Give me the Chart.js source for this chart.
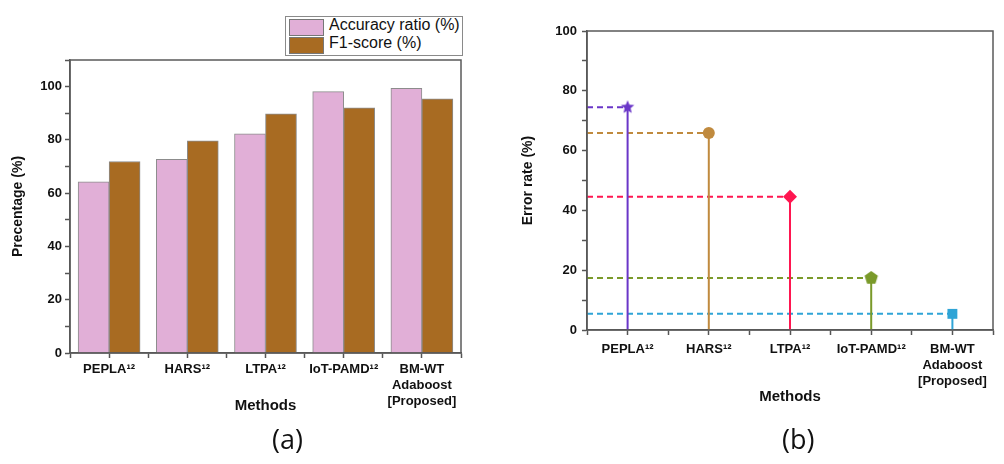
<!DOCTYPE html>
<html>
<head>
<meta charset="utf-8">
<script src="https://cdn.jsdelivr.net/npm/chart.js@4.4.1/dist/chart.umd.min.js"></script>
<style>
  body { margin: 0; background: #fff; font-family: "Liberation Sans", Arial, sans-serif; }
  #page { position: relative; width: 1004px; height: 464px; overflow: hidden; }
  .box { position: absolute; top: 0; height: 464px; }
  #legendA { position: absolute; left: 285px; top: 16px; width: 178px; height: 40px; border: 1px solid #8a8a8a; box-sizing: border-box; background: #fff; }
  .item { position: absolute; left: 3px; height: 16px; }
  .sw { position: absolute; left: 0; top: 0; width: 33px; height: 15px; border: 1px solid #777; }
  .lt { position: absolute; left: 40px; top: -3px; font-size: 16px; white-space: nowrap; color: #111; }
  .cap { position: absolute; top: 420px; font-family: "Open Sans", sans-serif; font-size: 27px; color: #111; }
</style>
</head>
<body>
<div id="page">
  <div class="box" style="left:0; width:480px;"><canvas id="chartA"></canvas></div>
  <div class="box" style="left:500px; width:504px;"><canvas id="chartB"></canvas></div>
  <div id="legendA"></div>
  <div class="cap" style="left:272px;">(a)</div>
  <div class="cap" style="left:782px;">(b)</div>
</div>
<script>
// datos
const metodos = ['PEPLA¹²', 'HARS¹²', 'LTPA¹²', 'IoT-PAMD¹²', ['BM-WT', 'Adaboost', '[Proposed]']];
const accuracyRatio = [64.3, 72.7, 82.3, 98.1, 99.4];
const f1Score = [71.9, 79.7, 89.8, 92.0, 95.4];
const errorRate = [74.5, 65.9, 44.6, 17.4, 5.4];
const seriesNames = ['Accuracy ratio (%)', 'F1-score (%)'];
const seriesColors = ['#e1afd7', '#a86b22'];
const errorColors = ['#6a36c8', '#c08a3e', '#ff1650', '#7a9a2a', '#2fa4d6'];

const tickFont = { family: 'Liberation Sans', size: 13, weight: 'bold' };
const titleFont = { family: 'Liberation Sans', size: 15, weight: 'bold' };

// marco alrededor del area del grafico
const framePlugin = {
    id: 'frame',
    afterDraw(chart) {
        const a = chart.chartArea;
        const ctx = chart.ctx;
        ctx.save();
        ctx.strokeStyle = '#5a5a5a';
        ctx.lineWidth = 1.5;
        ctx.strokeRect(a.left, a.top, a.right - a.left, a.bottom - a.top);
        ctx.restore();
    }
};

function xLabel(v) {
    return Number.isInteger(v) ? metodos[v - 1] : '';
}

// leyenda (a)
const legendA = document.getElementById('legendA');
seriesNames.forEach((name, i) => {
    const it = document.createElement('div');
    it.className = 'item';
    it.style.top = (2 + i * 18) + 'px';
    it.innerHTML = '<div class="sw" style="background:' + seriesColors[i] + '"></div><div class="lt">' + name + '</div>';
    legendA.appendChild(it);
});

// Grafico (a): barras
const seriesData = [accuracyRatio, f1Score];
new Chart(document.getElementById('chartA'), {
    type: 'bar',
    data: {
        datasets: seriesNames.map((name, i) => ({
            label: name,
            data: seriesData[i].map((v, j) => ({ x: j + 1, y: v })),
            backgroundColor: seriesColors[i],
            borderColor: '#8c8c8c',
            borderWidth: 1,
            barThickness: 31
        }))
    },
    options: {
        responsive: true,
        maintainAspectRatio: false,
        animation: false,
        layout: { padding: { top: 60, right: 19, bottom: 47, left: 0 } },
        plugins: { legend: { display: false }, tooltip: { enabled: false } },
        scales: {
            x: {
                type: 'linear',
                min: 0.5,
                max: 5.5,
                offset: false,
                afterFit: s => { s.height = 64; },
                grid: { display: true, drawOnChartArea: false, offset: false, tickLength: 5, color: '#555', tickWidth: 1.5 },
                border: { color: '#555', width: 1.5 },
                ticks: { stepSize: 0.5, autoSkip: false, maxRotation: 0, padding: 4, color: '#111', font: tickFont, callback: xLabel },
                title: { display: true, text: 'Methods', color: '#111', font: titleFont, padding: { top: 0, bottom: 2 } }
            },
            y: {
                min: 0,
                max: 110,
                afterFit: s => { s.width = 70; },
                grid: { display: true, drawOnChartArea: false, tickLength: 5, color: '#555', tickWidth: 1.5 },
                border: { color: '#555', width: 1.5 },
                ticks: { stepSize: 10, padding: 3, color: '#111', font: tickFont, callback: v => (v % 20 === 0 ? v : '') },
                title: { display: true, text: 'Precentage (%)', color: '#111', font: { family: 'Liberation Sans', size: 14, weight: 'bold' }, padding: { top: 10, bottom: 0 } }
            }
        }
    },
    plugins: [framePlugin]
});

// marcadores propios (estrella y pentagono)
function polyMarker(color, points, r, inner) {
    const c = document.createElement('canvas');
    const s = Math.ceil(r * 2 + 2);
    c.width = s; c.height = s;
    const g = c.getContext('2d');
    g.fillStyle = color;
    g.beginPath();
    const n = inner ? points * 2 : points;
    for (let k = 0; k < n; k++) {
        const ang = -Math.PI / 2 + k * Math.PI * 2 / n;
        const rr = inner && k % 2 === 1 ? r * inner : r;
        const px = s / 2 + rr * Math.cos(ang), py = s / 2 + rr * Math.sin(ang);
        if (k === 0) g.moveTo(px, py); else g.lineTo(px, py);
    }
    g.closePath();
    g.fill();
    return c;
}

const markerStyles = [
    polyMarker(errorColors[0], 5, 7, 0.45),
    'circle',
    'rectRot',
    polyMarker(errorColors[3], 5, 7),
    'rect'
];
const markerSizes = [7, 6, 7, 6, 7];

// Grafico (b): tasa de error
new Chart(document.getElementById('chartB'), {
    type: 'line',
    data: {
        datasets: errorRate.map((v, i) => ({
            label: Array.isArray(metodos[i]) ? metodos[i].join(' ') : metodos[i],
            data: [{ x: 0.5, y: v }, { x: i + 1, y: v }, { x: i + 1, y: 0 }],
            borderColor: errorColors[i],
            backgroundColor: errorColors[i],
            borderWidth: 2,
            pointStyle: markerStyles[i],
            pointRadius: [0, markerSizes[i], 0],
            pointBorderWidth: 0,
            segment: { borderDash: ctx => (ctx.p0DataIndex === 0 ? [6, 4] : undefined) }
        }))
    },
    options: {
        responsive: true,
        maintainAspectRatio: false,
        animation: false,
        layout: { padding: { top: 31, right: 11, bottom: 56, left: 0 } },
        plugins: { legend: { display: false }, tooltip: { enabled: false } },
        scales: {
            x: {
                type: 'linear',
                min: 0.5,
                max: 5.5,
                afterFit: s => { s.height = 78; },
                grid: { display: true, drawOnChartArea: false, tickLength: 5, color: '#555', tickWidth: 1.5 },
                border: { color: '#555', width: 1.5 },
                ticks: { stepSize: 0.5, autoSkip: false, maxRotation: 0, padding: 7, color: '#111', font: tickFont, callback: xLabel },
                title: { display: true, text: 'Methods', color: '#111', font: titleFont, padding: { top: 0, bottom: 2 } }
            },
            y: {
                min: 0,
                max: 100,
                afterFit: s => { s.width = 87; },
                grid: { display: true, drawOnChartArea: false, tickLength: 5, color: '#555', tickWidth: 1.5 },
                border: { color: '#555', width: 1.5 },
                ticks: { stepSize: 10, padding: 5, color: '#111', font: tickFont, callback: v => (v % 20 === 0 ? v : '') },
                title: { display: true, text: 'Error rate (%)', color: '#111', font: { family: 'Liberation Sans', size: 14, weight: 'bold' }, padding: { top: 20, bottom: 0 } }
            }
        }
    },
    plugins: [framePlugin]
});
</script>
</body>
</html>
